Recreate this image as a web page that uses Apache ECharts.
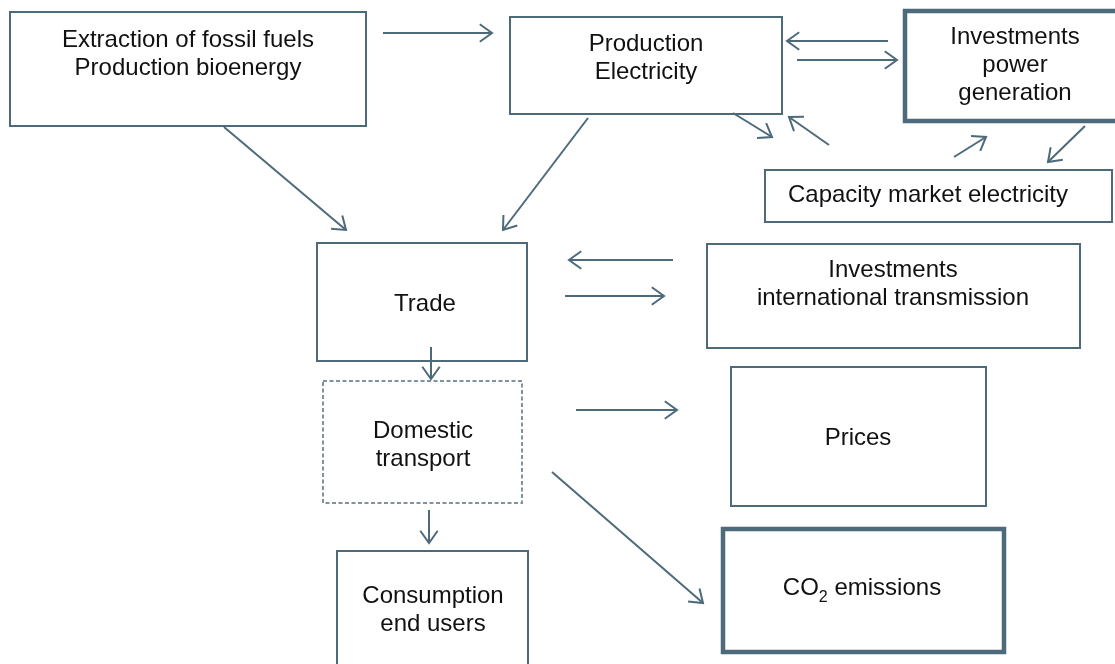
<!DOCTYPE html>
<html>
<head>
<meta charset="utf-8">
<script src="https://cdn.jsdelivr.net/npm/echarts@6/dist/echarts.min.js"></script>
<style>
html, body { margin: 0; padding: 0; background: #ffffff; }
#main { width: 1115px; height: 664px; }
</style>
</head>
<body>
<div id="main"></div>
<script>
// boxes of the diagram (label lines, extent in diagram units, first text line y)
var boxLabels = [
	['Extraction of fossil fuels', 'Production bioenergy'],
	['Production', 'Electricity'],
	['Investments', 'power', 'generation'],
	['Capacity market electricity'],
	['Trade'],
	['Investments', 'international transmission'],
	['Domestic', 'transport'],
	['Prices'],
	['{a|CO}{s|2}{a| emissions}'],
	['Consumption', 'end users']
];
var boxLeft = [10, 510, 905, 765, 317, 707, 323, 731, 723, 337];
var boxTop = [12, 17, 11, 170, 243, 244, 381, 367, 529, 551];
var boxRight = [366, 782, 1122, 1112, 527, 1080, 522, 986, 1004, 528];
var boxBottom = [126, 114, 121, 222, 361, 348, 503, 506, 652, 690];
var textX = [188, 646, 1015, 928, 425, 893, 423, 858, 862, 433];
var textY = [40, 44, 37, 195, 304, 270, 431, 438, 588, 596];
// 0 = normal, 1 = thick, 2 = dashed
var boxKind = [0, 0, 1, 0, 0, 0, 2, 0, 1, 0];

// arrows: from (x0,y0) to (x1,y1), head at the end
var arrowFrom = [[383, 33], [888, 41], [797, 60], [733, 113], [829, 145], [954, 157], [1085, 126],
	[224, 127], [588, 118], [673, 260], [565, 296], [431, 347], [576, 410], [552, 472], [429, 510]];
var arrowTo = [[492, 33], [787, 41], [897, 60], [772, 137], [789, 117], [986, 137], [1048, 162],
	[346, 230], [503, 230], [569, 260], [664, 296], [431, 379], [677, 410], [703, 603], [429, 543]];

var lineColor = '#4d6a7b';

var boxData = [];
for (var i = 0; i < boxLabels.length; i++) {
	boxData.push([boxLeft[i], boxTop[i], boxRight[i], boxBottom[i], textX[i], textY[i], i]);
}
var arrowData = [];
for (var i = 0; i < arrowFrom.length; i++) {
	arrowData.push([arrowFrom[i][0], arrowFrom[i][1], arrowTo[i][0], arrowTo[i][1]]);
}

var myChart = echarts.init(document.getElementById('main'));
option = {
	backgroundColor : '#ffffff',
	animation : false,
	grid : { left : 0, right : 0, top : 0, bottom : 0 },
	xAxis : { type : 'value', min : 0, max : 1115, show : false },
	yAxis : { type : 'value', min : 0, max : 664, inverse : true, show : false },
	series : [ {
		type : 'custom',
		clip : true,
		data : boxData,
		renderItem : function(params, api) {
			var idx = api.value(6);
			var p0 = api.coord([api.value(0), api.value(1)]);
			var p1 = api.coord([api.value(2), api.value(3)]);
			var tp = api.coord([api.value(4), api.value(5)]);
			var kind = boxKind[idx];
			var lines = boxLabels[idx];
			var rect = {
				type : 'rect',
				shape : { x : p0[0], y : p0[1], width : p1[0] - p0[0], height : p1[1] - p0[1] },
				style : {
					fill : '#ffffff',
					stroke : kind == 2 ? '#7f929d' : lineColor,
					lineWidth : kind == 1 ? 4.5 : 2,
					lineDash : kind == 2 ? [4, 2.5] : null
				}
			};
			var textStyle = {
				text : lines.join('\n'),
				x : tp[0],
				y : tp[1] - 14,
				align : 'center',
				verticalAlign : 'top',
				fontFamily : 'Liberation Sans, Arial, sans-serif',
				fontSize : 24,
				lineHeight : 28,
				fill : '#111111'
			};
			if (idx == 8) {
				// subscript: taller line, small token sits at the bottom
				textStyle.y = tp[1] - 18;
				textStyle.rich = {
					a : { fontSize : 24, lineHeight : 36, fontFamily : 'Liberation Sans', color : '#111111' },
					s : { fontSize : 16, lineHeight : 16, fontFamily : 'Liberation Sans', color : '#111111', verticalAlign : 'bottom' }
				};
			}
			return {
				type : 'group',
				children : [ rect, { type : 'text', style : textStyle } ]
			};
		}
	}, {
		type : 'custom',
		clip : true,
		data : arrowData,
		renderItem : function(params, api) {
			var a = api.coord([api.value(0), api.value(1)]);
			var b = api.coord([api.value(2), api.value(3)]);
			var ang = Math.atan2(b[1] - a[1], b[0] - a[0]);
			var len = 15, spread = 0.62;
			var h1 = [b[0] - len * Math.cos(ang - spread), b[1] - len * Math.sin(ang - spread)];
			var h2 = [b[0] - len * Math.cos(ang + spread), b[1] - len * Math.sin(ang + spread)];
			var st = { stroke : lineColor, lineWidth : 2, fill : null };
			return {
				type : 'group',
				children : [ {
					type : 'line',
					shape : { x1 : a[0], y1 : a[1], x2 : b[0], y2 : b[1] },
					style : st
				}, {
					type : 'polyline',
					shape : { points : [ h1, b, h2 ] },
					style : st
				} ]
			};
		}
	} ]
};
myChart.setOption(option);
</script>
</body>
</html>
